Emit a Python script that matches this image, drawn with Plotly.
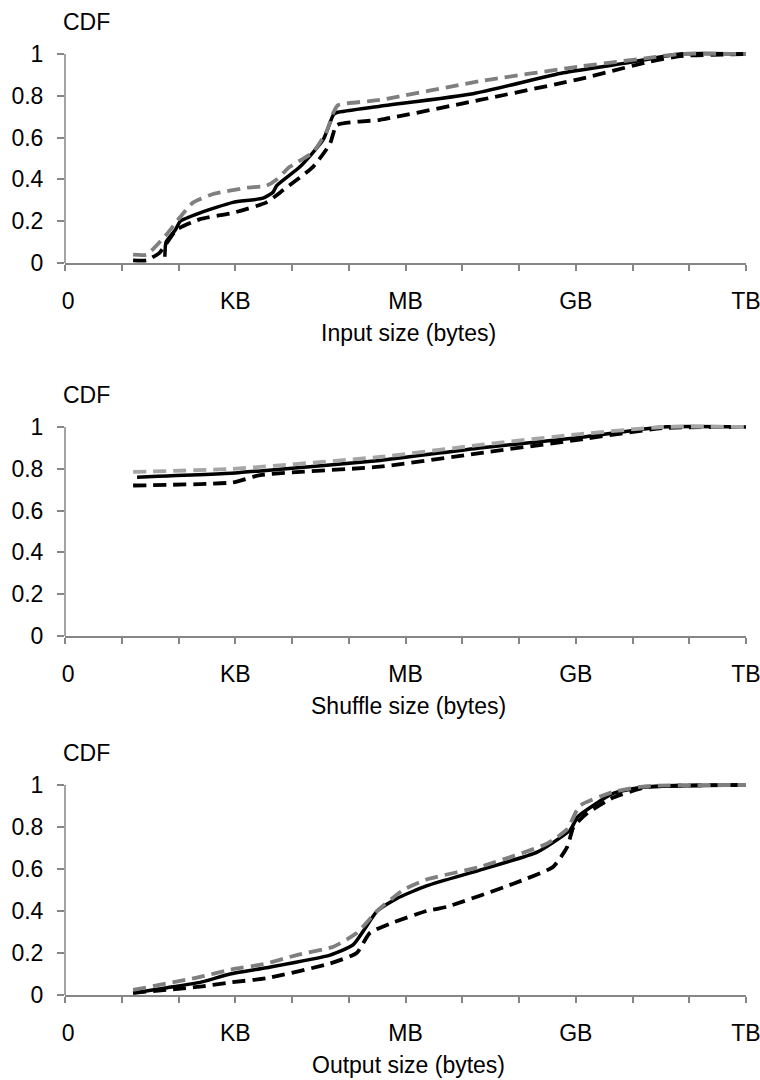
import plotly.graph_objects as go

# ---------------- data (x = log10 of bytes, y = CDF) ----------------
x_tick_vals = list(range(0, 13))
x_tick_text = ["&nbsp;0", "", "", "KB", "", "", "MB", "", "", "GB", "", "", "TB"]
y_tick_vals = [0, 0.2, 0.4, 0.6, 0.8, 1]
y_tick_text = ["0", "0.2", "0.4", "0.6", "0.8", "1"]

panel_titles = ["Input size (bytes)", "Shuffle size (bytes)", "Output size (bytes)"]

# Input size
in_solid_x = [1.76, 1.78, 1.95, 2.03, 2.38, 2.96, 3.49, 3.67, 3.73, 4.14, 4.55, 4.73, 4.79, 5.55, 7.19, 8.78, 9.96, 10.84, 12]
in_solid_y = [0.03, 0.10, 0.16, 0.20, 0.24, 0.29, 0.31, 0.34, 0.37, 0.46, 0.59, 0.71, 0.72, 0.75, 0.81, 0.91, 0.96, 1.0, 1.0]
in_gray_x = [1.2, 1.44, 1.8, 2.03, 2.26, 2.61, 3.2, 3.55, 3.73, 3.96, 4.37, 4.61, 4.73, 4.81, 5.55, 7.31, 9.07, 10.25, 10.84, 12]
in_gray_y = [0.04, 0.04, 0.14, 0.22, 0.29, 0.33, 0.36, 0.37, 0.40, 0.46, 0.53, 0.63, 0.72, 0.755, 0.78, 0.87, 0.94, 0.98, 1.0, 1.0]
in_dash_x = [1.2, 1.44, 1.67, 1.97, 2.38, 2.96, 3.55, 3.85, 4.37, 4.67, 4.79, 5.55, 7.31, 9.07, 10.25, 10.84, 12]
in_dash_y = [0.013, 0.013, 0.05, 0.16, 0.21, 0.24, 0.29, 0.35, 0.46, 0.57, 0.66, 0.685, 0.78, 0.88, 0.96, 0.99, 1.0]

# Shuffle size
sh_solid_x = [1.27, 3.0, 3.44, 5.55, 7.31, 9.07, 10.54, 12]
sh_solid_y = [0.76, 0.78, 0.79, 0.84, 0.90, 0.95, 1.0, 1.0]
sh_gray_x = [1.2, 2.96, 5.55, 7.31, 9.07, 10.54, 12]
sh_gray_y = [0.785, 0.80, 0.857, 0.914, 0.966, 1.0, 1.0]
sh_dash_x = [1.2, 2.96, 3.44, 5.55, 7.31, 9.07, 10.54, 12]
sh_dash_y = [0.72, 0.735, 0.77, 0.81, 0.875, 0.94, 0.995, 1.0]

# Output size
out_solid_x = [1.2, 1.8, 2.38, 2.91, 3.55, 4.67, 5.08, 5.5, 5.85, 6.37, 7.31, 8.32, 8.9, 9.04, 9.66, 10.2, 12]
out_solid_y = [0.01, 0.035, 0.06, 0.10, 0.13, 0.19, 0.24, 0.40, 0.46, 0.52, 0.595, 0.68, 0.785, 0.85, 0.96, 0.99, 1.0]
out_gray_x = [1.2, 2.38, 2.91, 3.55, 4.08, 4.73, 5.14, 5.5, 5.96, 6.37, 7.31, 8.49, 8.85, 9.07, 9.66, 10.25, 12]
out_gray_y = [0.024, 0.086, 0.12, 0.15, 0.19, 0.23, 0.295, 0.40, 0.50, 0.55, 0.61, 0.72, 0.79, 0.90, 0.967, 0.995, 1.0]
out_dash_x = [1.2, 2.38, 2.91, 3.55, 4.67, 5.14, 5.37, 5.73, 6.37, 6.73, 7.9, 8.6, 8.85, 8.96, 9.2, 9.66, 10.25, 12]
out_dash_y = [0.01, 0.04, 0.06, 0.08, 0.15, 0.20, 0.295, 0.34, 0.40, 0.42, 0.53, 0.61, 0.705, 0.80, 0.865, 0.94, 0.99, 1.0]

panels = [
    [(in_solid_x, in_solid_y), (in_dash_x, in_dash_y), (in_gray_x, in_gray_y)],
    [(sh_solid_x, sh_solid_y), (sh_dash_x, sh_dash_y), (sh_gray_x, sh_gray_y)],
    [(out_solid_x, out_solid_y), (out_dash_x, out_dash_y), (out_gray_x, out_gray_y)],
]
gray_colors = ["#7f7f7f", "#a6a6a6", "#7f7f7f"]

# ---------------- layout geometry ----------------
W, H = 760, 1080
X_LEFT, X_RIGHT = 65, 746
PANEL_PIX = [(263, 54), (636, 427), (995, 785)]  # pixel rows of y=0 and y=1
Y_MAX = 1.02
FONT = "Liberation Sans, Arial, sans-serif"
FS = 23
AXIS_COLOR = "#868686"
TXT = "#000000"

fig = go.Figure()
layout = dict(
    width=W, height=H,
    margin=dict(l=0, r=0, t=0, b=0),
    paper_bgcolor="white", plot_bgcolor="white",
    showlegend=False,
    font=dict(family=FONT, size=FS, color=TXT),
)
annotations = []
shapes = []

for i, (p0, p1) in enumerate(PANEL_PIX):
    n = i + 1
    xa = "x" if n == 1 else f"x{n}"
    ya = "y" if n == 1 else f"y{n}"
    top = p0 - (p0 - p1) * Y_MAX
    dom_y = [1 - p0 / H, 1 - top / H]
    dom_x = [X_LEFT / W, X_RIGHT / W]

    (sx, sy), (dx, dy), (gx, gy) = panels[i]
    fig.add_trace(go.Scatter(x=sx, y=sy, mode="lines", xaxis=xa, yaxis=ya,
                             line=dict(color="#000000", width=3.5, shape="spline", smoothing=0.5)))
    fig.add_trace(go.Scatter(x=dx, y=dy, mode="lines", xaxis=xa, yaxis=ya,
                             line=dict(color="#000000", width=3.8, dash="13px,7px",
                                       shape="spline", smoothing=0.5)))
    fig.add_trace(go.Scatter(x=gx, y=gy, mode="lines", xaxis=xa, yaxis=ya,
                             line=dict(color=gray_colors[i], width=3.8, dash="13px,7px",
                                       shape="spline", smoothing=0.5)))

    layout["xaxis" if n == 1 else f"xaxis{n}"] = dict(
        domain=dom_x, anchor=ya, range=[0, 12],
        tickmode="array", tickvals=x_tick_vals, ticktext=x_tick_text,
        ticks="outside", ticklen=6, tickwidth=1.5, tickcolor=AXIS_COLOR,
        showline=True, linecolor=AXIS_COLOR, linewidth=1.5,
        showgrid=False, zeroline=False, automargin=False,
        ticklabelstandoff=11, ticklabeloverflow="allow",
        tickfont=dict(family=FONT, size=FS, color=TXT),
    )
    layout["yaxis" if n == 1 else f"yaxis{n}"] = dict(
        domain=dom_y, anchor=xa, range=[0, Y_MAX],
        tickmode="array", tickvals=y_tick_vals, ticktext=y_tick_text,
        ticks="outside", ticklen=7, tickwidth=1.5, tickcolor=AXIS_COLOR,
        showline=False, showgrid=False, zeroline=False, automargin=False,
        ticklabelstandoff=9, ticklabeloverflow="allow",
        tickfont=dict(family=FONT, size=FS, color=TXT),
    )
    shapes.append(dict(type="line", xref=f"{xa} domain", yref=f"{ya} domain",
                       x0=0, x1=0, y0=0, y1=1 / Y_MAX,
                       line=dict(color=AXIS_COLOR, width=1.5)))
    annotations.append(dict(text="CDF", xref="paper", yref="paper",
                            x=61 / W, y=1 - (p1 - 32) / H, xanchor="left", yanchor="middle",
                            showarrow=False, font=dict(family=FONT, size=FS, color=TXT)))
    annotations.append(dict(text=panel_titles[i], xref="paper", yref="paper",
                            x=409 / W, y=1 - (p0 + 70) / H, xanchor="center", yanchor="middle",
                            showarrow=False, font=dict(family=FONT, size=FS, color=TXT)))

layout["annotations"] = annotations
layout["shapes"] = shapes
fig.update_layout(**layout)
fig.write_html("out.html")
